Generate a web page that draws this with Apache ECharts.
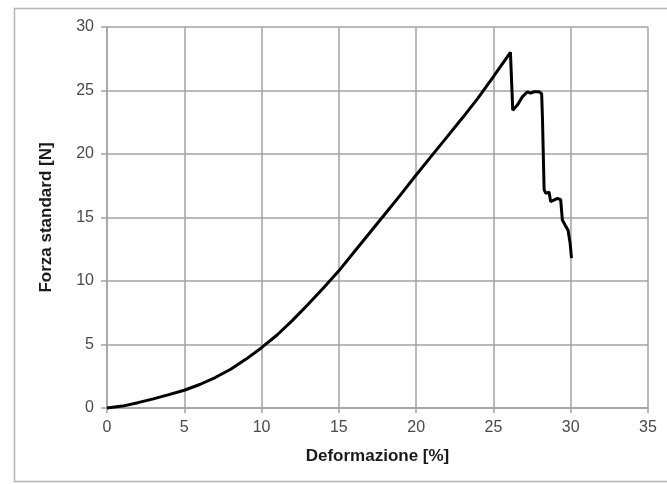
<!DOCTYPE html>
<html>
<head>
<meta charset="utf-8">
<script src="https://cdn.jsdelivr.net/npm/echarts@6/dist/echarts.min.js"></script>
<style>
  html, body { margin: 0; padding: 0; background: #ffffff; }
  #chart { width: 667px; height: 484px; }
</style>
</head>
<body>
<div id="chart"></div>
<script>
// Tensile test: strain [%] vs. standard force [N]
const deformazione = [
  0, 1, 2, 3, 4, 5, 6, 7, 8, 9, 10, 11, 12, 13, 14, 15, 16, 17, 18, 19, 20,
  21, 22, 23, 24, 25, 26.1,
  26.25, 26.55, 26.87, 27.2, 27.4, 27.63, 27.95, 28.12, 28.17, 28.28,
  28.39, 28.6, 28.7, 29.14, 29.35, 29.46, 29.68, 29.83, 29.96, 30.05
];
const forza = [
  0, 0.15, 0.42, 0.72, 1.05, 1.4, 1.85, 2.4, 3.05, 3.85, 4.75,
  5.75, 6.9, 8.15, 9.45, 10.8, 12.3, 13.8, 15.3, 16.8, 18.35,
  19.85, 21.35, 22.85, 24.4, 26.1, 28.0,
  23.45, 23.85, 24.5, 24.9, 24.8, 24.9, 24.9, 24.75, 22.9, 17.2,
  16.9, 17.0, 16.25, 16.5, 16.4, 14.8, 14.3, 14.0, 13.0, 11.8
];
const xTicks = [0, 5, 10, 15, 20, 25, 30, 35];
const yTicks = [0, 5, 10, 15, 20, 25, 30];

const points = deformazione.map((x, i) => [x, forza[i]]);

const gridColor = '#a3a3a3';
const labelStyle = {
  color: '#4a4a4a',
  fontFamily: 'Liberation Sans, Arial, sans-serif',
  fontSize: 16
};
const titleStyle = {
  color: '#1a1a1a',
  fontFamily: 'Liberation Sans, Arial, sans-serif',
  fontSize: 17,
  fontWeight: 'bold'
};

const chart = echarts.init(document.getElementById('chart'), null, { renderer: 'canvas' });
chart.setOption({
  animation: false,
  backgroundColor: '#ffffff',
  graphic: [{
    type: 'rect',
    shape: { x: 14.5, y: 8.5, width: 700, height: 473 },
    style: { fill: 'none', stroke: '#b4b4b4', lineWidth: 1.5 },
    silent: true,
    z: -1
  }],
  grid: { left: 107, right: 19, top: 27, bottom: 76 },
  xAxis: {
    type: 'value',
    min: xTicks[0],
    max: xTicks[xTicks.length - 1],
    interval: xTicks[1] - xTicks[0],
    name: 'Deformazione [%]',
    nameLocation: 'middle',
    nameGap: 40,
    nameTextStyle: titleStyle,
    axisLine: { show: true, lineStyle: { color: gridColor, width: 1.5 } },
    axisTick: { show: true, length: 5, lineStyle: { color: gridColor, width: 1.5 } },
    axisLabel: Object.assign({ margin: 12 }, labelStyle),
    splitLine: { show: true, lineStyle: { color: gridColor, width: 1.5 } }
  },
  yAxis: {
    type: 'value',
    min: yTicks[0],
    max: yTicks[yTicks.length - 1],
    interval: yTicks[1] - yTicks[0],
    name: 'Forza standard [N]',
    nameLocation: 'middle',
    nameGap: 52,
    nameTextStyle: titleStyle,
    axisLine: { show: true, lineStyle: { color: gridColor, width: 1.5 } },
    axisTick: { show: true, length: 6, lineStyle: { color: gridColor, width: 1.5 } },
    axisLabel: Object.assign({ margin: 13 }, labelStyle),
    splitLine: { show: true, lineStyle: { color: gridColor, width: 1.5 } }
  },
  series: [{
    type: 'line',
    data: points,
    showSymbol: false,
    smooth: false,
    lineStyle: { color: '#000000', width: 3 },
    clip: false
  }]
});
</script>
</body>
</html>
